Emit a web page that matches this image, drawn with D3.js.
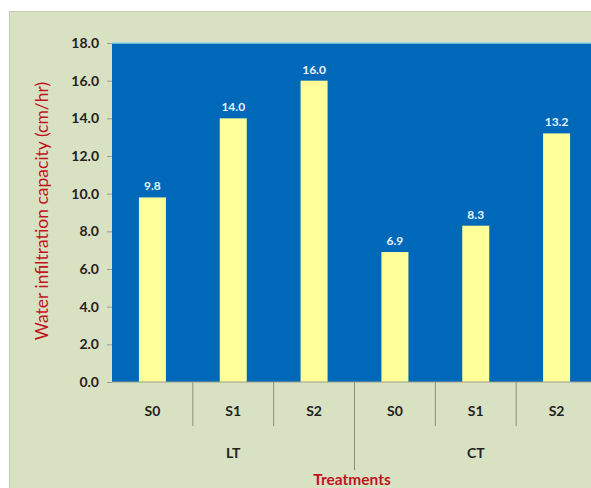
<!DOCTYPE html>
<html><head><meta charset="utf-8">
<script src="https://cdn.jsdelivr.net/npm/d3@7"></script>
<style>body{margin:0;background:#fff}svg{display:block}</style>
</head><body>
<script>
const groups = ["LT", "CT"];
const levels = ["S0", "S1", "S2"];
const values = [9.8, 14.0, 16.0, 6.9, 8.3, 13.2];
const yTicks = [0, 2, 4, 6, 8, 10, 12, 14, 16, 18];
const yTitle = "Water infiltration capacity (cm/hr)";
const xTitle = "Treatments";

const W = 591, H = 488;
const font = "Lato, 'Open Sans', sans-serif";
const svg = d3.select("body").append("svg").attr("width", W).attr("height", H);

svg.append("rect").attr("x", 9).attr("y", 11).attr("width", W - 9).attr("height", H - 11)
  .attr("fill", "#d9e1c3");
svg.append("path").attr("d", `M9.5,${H}V11.5H${W}`).attr("fill", "none").attr("stroke", "#c2c9ad");

const m = {left: 112, top: 43, right: 597, bottom: 382};
const cats = [];
groups.forEach(g => levels.forEach(l => cats.push(g + "|" + l)));
const x = d3.scaleBand().domain(cats).range([m.left, m.right]).paddingInner(0).paddingOuter(0);
const y = d3.scaleLinear().domain([0, 18]).range([m.bottom, m.top]);

svg.append("rect").attr("x", m.left).attr("y", m.top).attr("width", W - m.left)
  .attr("height", m.bottom - m.top).attr("fill", "#0068b9");
svg.append("line").attr("x1", m.left).attr("x2", W).attr("y1", m.top).attr("y2", m.top)
  .attr("stroke", "#8fd3e8").attr("stroke-width", 1.5);

const barW = 27;
svg.selectAll("rect.bar").data(values).join("rect").attr("class", "bar")
  .attr("x", (d, i) => x(cats[i]) + x.bandwidth() / 2 - barW / 2)
  .attr("y", d => y(d)).attr("width", barW).attr("height", d => y(0) - y(d))
  .attr("fill", "#ffff99");

svg.selectAll("text.val").data(values).join("text").attr("class", "val")
  .attr("x", (d, i) => x(cats[i]) + x.bandwidth() / 2)
  .attr("y", d => y(d) - 7).attr("text-anchor", "middle")
  .attr("font-family", font).attr("font-weight", "bold").attr("font-size", 12)
  .attr("fill", "#e6f4ff").text(d => d.toFixed(1));

// y axis
const ya = svg.append("g").attr("transform", `translate(${m.left},0)`)
  .call(d3.axisLeft(y).tickValues(yTicks).tickFormat(d3.format(".1f")).tickSize(5).tickPadding(8));
ya.select(".domain").remove();
ya.selectAll("line").attr("stroke", "#999");
ya.selectAll("text").attr("font-family", font).attr("font-weight", "bold")
  .attr("font-size", 14).attr("fill", "#222");

// x axis line
svg.append("line").attr("x1", m.left).attr("x2", W).attr("y1", m.bottom).attr("y2", m.bottom)
  .attr("stroke", "#9aa08a");

// category labels
svg.selectAll("text.cat").data(cats).join("text").attr("class", "cat")
  .attr("x", d => x(d) + x.bandwidth() / 2).attr("y", 416).attr("text-anchor", "middle")
  .attr("font-family", font).attr("font-weight", "bold").attr("font-size", 14)
  .attr("fill", "#222").text(d => d.split("|")[1]);

// dividers
cats.forEach((c, i) => {
  if (i === 0) return;
  const isGroup = i % levels.length === 0;
  svg.append("line").attr("x1", x(c)).attr("x2", x(c)).attr("y1", m.bottom)
    .attr("y2", isGroup ? 470 : 426).attr("stroke", "#8a8f7c");
});

// group labels
groups.forEach(g => {
  const first = x(g + "|" + levels[0]);
  const last = x(g + "|" + levels[levels.length - 1]) + x.bandwidth();
  svg.append("text").attr("x", (first + last) / 2).attr("y", 458).attr("text-anchor", "middle")
    .attr("font-family", font).attr("font-weight", "bold").attr("font-size", 14)
    .attr("fill", "#222").text(g);
});

svg.append("text").attr("x", 352).attr("y", 485).attr("text-anchor", "middle")
  .attr("font-family", font).attr("font-weight", "bold").attr("font-size", 15.5)
  .attr("fill", "#c0141c").text(xTitle);

svg.append("text").attr("transform", "translate(48,211) rotate(-90)").attr("text-anchor", "middle")
  .attr("font-family", font).attr("font-size", 17.5)
  .attr("fill", "#c0141c").text(yTitle);
</script>
</body></html>
